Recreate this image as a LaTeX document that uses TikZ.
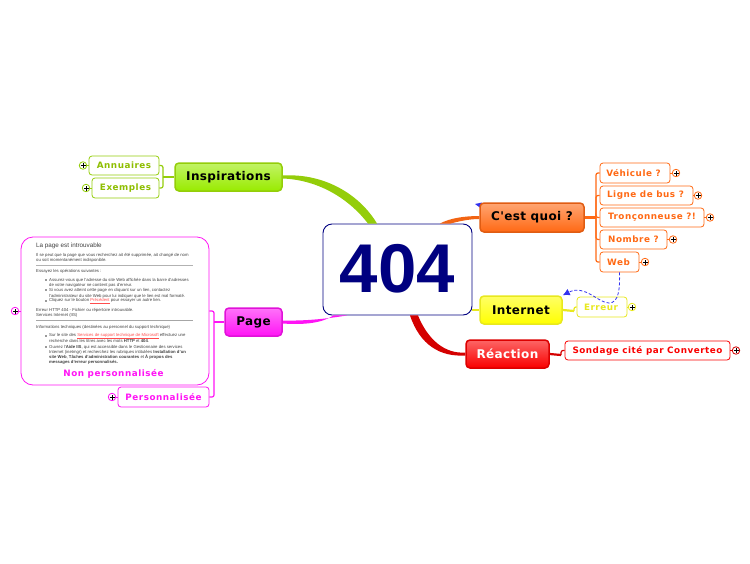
\documentclass[tikz,border=0pt]{standalone}
\usepackage{fontspec}
\setmainfont{Liberation Sans}
\newfontfamily\mapfont[LetterSpace=6]{DejaVu Sans}
\newfontfamily\topicfont[LetterSpace=3]{DejaVu Sans}
\usetikzlibrary{arrows.meta}
\definecolor{lime404}{RGB}{153,235,0}
\definecolor{limeline404}{RGB}{148,205,10}
\definecolor{limetext404}{RGB}{142,190,0}
\definecolor{orange404}{RGB}{255,105,20}
\definecolor{yellow404}{RGB}{255,255,0}
\definecolor{yellowline404}{RGB}{232,232,30}
\definecolor{red404}{RGB}{250,0,0}
\definecolor{pink404}{RGB}{255,20,245}
\definecolor{navy404}{RGB}{0,0,128}
\definecolor{link404}{RGB}{50,50,240}
\tikzset{
  topic/.style={draw=#1!88!black, line width=1.5pt, rounded corners=4pt, top color=#1!60!white, middle color=#1, bottom color=#1,
    inner sep=0pt, font=\topicfont\fontsize{12}{13}\selectfont\bfseries},
  kid/.style={draw=#1, line width=.8pt, rounded corners=3pt, fill=white, text=#1, inner sep=0pt,
    font=\mapfont\fontsize{8.8}{10}\selectfont\bfseries},
  stem/.style={draw=#1, line width=2.2pt},
  twig/.style={draw=#1, line width=1.2pt, rounded corners=2pt},
  plusmark/.style={circle, draw=#1, fill=white, line width=.8pt, minimum size=7.5pt, inner sep=0pt,
    path picture={\draw[black, line width=.8pt]
      ([xshift=-2.5pt]path picture bounding box.center) -- ([xshift=2.5pt]path picture bounding box.center)
      ([yshift=-2.5pt]path picture bounding box.center) -- ([yshift=2.5pt]path picture bounding box.center);}},
  pageline/.style={anchor=west, inner sep=0pt, text=black!75, font=\fontsize{4.25}{5}\selectfont},
}
\begin{document}
\begin{tikzpicture}[x=1pt, y=-1pt]
\useasboundingbox (0,0) rectangle (750,563);
% centre and main topics
\node (root) at (397.5,269.5)[draw=navy404, line width=.9pt, rounded corners=9pt, fill=white, minimum width=149pt, minimum height=91pt, inner sep=0pt, text=navy404, font=\fontsize{69}{70}\selectfont\bfseries]{\raisebox{1.5pt}{404}};
\fill[link404] (475,204)--(482,202.5)--(482,209)--cycle;
\node (insp) at (228.5,177)[topic=lime404, draw=limeline404, minimum width=107pt, minimum height=28pt]{Inspirations};
\node (quoi) at (532,217.5)[topic=orange404, minimum width=104pt, minimum height=29pt]{C'est quoi ?};
\node (inter) at (521,310)[topic=yellow404, draw=yellowline404, minimum width=82pt, minimum height=28pt]{Internet};
\node (react) at (507.5,354)[topic=red404, minimum width=83pt, minimum height=28pt, text=white]{Réaction};
\node (page) at (253.5,322)[topic=pink404, minimum width=57pt, minimum height=28pt]{Page};
% children
\node (annu) at (124,165.5)[kid=limeline404, text=limetext404, minimum width=70pt, minimum height=19pt]{Annuaires};
\node (exem) at (125.5,188)[kid=limeline404, text=limetext404, minimum width=67pt, minimum height=20pt]{Exemples};
\node (vehi) at (635,173)[kid=orange404, minimum width=70pt, minimum height=20pt]{\hspace{-3pt}Véhicule ?};
\node (bus) at (646.5,195.5)[kid=orange404, minimum width=93pt, minimum height=19pt]{\hspace{-2pt}Ligne de bus ?};
\node (tron) at (652,217.5)[kid=orange404, minimum width=104pt, minimum height=19pt]{Tronçonneuse ?!};
\node (nomb) at (633.5,239.5)[kid=orange404, minimum width=67pt, minimum height=19pt]{Nombre ?};
\node (web) at (619.5,262)[kid=orange404, minimum width=39pt, minimum height=20pt]{\hspace{-2pt}Web};
\node (erreur) at (602,307)[kid=yellowline404, minimum width=50pt, minimum height=20pt]{\hspace{-2pt}Erreur};
\node (sond) at (647.5,350.5)[kid=red404, minimum width=165pt, minimum height=19pt]{Sondage cité par Converteo};
\node (perso) at (163.5,397)[kid=pink404, minimum width=91pt, minimum height=20pt]{Personnalisée};
\node (shot) at (115,311)[draw=pink404, line width=.8pt, rounded corners=12pt, fill=white, minimum width=188pt, minimum height=148pt]{};
% page copy inside the box
\node (shotTitle) at (36,246)[pageline, font=\fontsize{6.3}{7}\selectfont]{La page est introuvable};
\foreach \ypos/\xpos/\txt in {
  255/36/{Il se peut que la page que vous recherchez ait été supprimée, ait changé de nom},
  260/36/{ou soit momentanément indisponible.},
  271/36/{Essayez les opérations suivantes :},
  280/49/{Assurez-vous que l'adresse du site Web affichée dans la barre d'adresses},
  285/49/{de votre navigateur ne contient pas d'erreur.},
  290/49/{Si vous avez atteint cette page en cliquant sur un lien, contactez},
  296/49/{l'administrateur du site Web pour lui indiquer que le lien est mal formaté.},
  301/49/{Cliquez sur le bouton \textcolor{red!70}{\underline{Précédent}} pour essayer un autre lien.},
  310/36/{Erreur HTTP 404 - Fichier ou répertoire introuvable.},
  315/36/{Services Internet (IIS)},
  327/36/{Informations techniques (destinées au personnel du support technique)},
  336/49/{Sur le site des \textcolor{red!70}{\underline{Services de support technique de Microsoft}} effectuez une},
  341/49/{recherche dans les titres avec les mots \textbf{HTTP} et \textbf{404}.},
  347/49/{Ouvrez l'\textbf{Aide IIS}, qui est accessible dans le Gestionnaire des services},
  352/49/{Internet (inetmgr) et recherchez les rubriques intitulées \textbf{Installation d'un}},
  357/49/{\textbf{site Web}, \textbf{Tâches d'administration courantes} et \textbf{À propos des}},
  362/49/{\textbf{messages d'erreur personnalisés.}}}
  \node (line\ypos) at (\xpos,\ypos)[pageline]{\txt};
\foreach \ypos in {280,290,301,336,347}
  \fill[black!80] (46,\ypos) circle (.9);
\draw[black!30, line width=.8pt] (36,265)--(193,265);
\draw[black!35, line width=.8pt] (36,320)--(193,320);
\node (shotName) at (113.5,374)[inner sep=0pt, text=pink404, font=\mapfont\fontsize{8.8}{10}\selectfont\bfseries]{Non personnalisée};
% branches from the centre
\fill[limeline404] ([yshift=1.5]insp.east) .. controls (325,173) and (360,195) .. ([xshift=-20.5]root.north) -- ([xshift=-29.5]root.north) .. controls (350,200) and (320,180) .. ([yshift=-1.5]insp.east) -- cycle;
\fill[orange404!95!black] ([yshift=1.5]quoi.west) .. controls (465,216) and (450,218) .. ([xshift=42.5]root.north) -- ([xshift=53]root.north) .. controls (460,221) and (470,219) .. ([yshift=-1.5]quoi.west) -- cycle;
\fill[pink404] ([yshift=1.5]page.east) .. controls (305,321) and (325,319) .. ([xshift=-50.5]root.south) -- ([xshift=-64]root.south) .. controls (322,323) and (305,325) .. ([yshift=-1.5]page.east) -- cycle;
\fill[red404!85!black] ([yshift=1.5]react.west) .. controls (445,354) and (428,340) .. ([xshift=20.5]root.south) -- ([xshift=12.5]root.south) .. controls (420,345) and (440,357) .. ([yshift=-1.5]react.west) -- cycle;
\draw[stem=yellowline404] (root.east |- inter.west) -- (inter.west);
% forks to the children
\coordinate (inspFork) at (163,177);
\coordinate (quoiFork) at (596,217.5);
\coordinate (interFork) at (574,311);
\coordinate (reactFork) at (561,355);
\coordinate (pageFork) at (214,322);
\draw[stem=limeline404] (insp.west) -- (inspFork);
\draw[stem=orange404] (quoi.east) -- (quoiFork);
\draw[stem=yellowline404] (inter.east) -- (interFork);
\draw[stem=red404!85!black] (react.east) -- (reactFork);
\draw[stem=pink404] (page.west) -- (pageFork);
\foreach \kid in {annu,exem}
  \draw[twig=limeline404] (\kid.east) -| (inspFork);
\foreach \kid in {vehi,bus,tron,nomb,web}
  \draw[twig=orange404] (\kid.west) -| (quoiFork);
\draw[twig=yellowline404] (erreur.west) -| (interFork);
\draw[twig=red404!85!black] (sond.west) -| (reactFork);
\foreach \kid in {shot,perso}
  \draw[twig=pink404] (\kid.east) -| (pageFork);
% plus marks
\foreach \kid/\xpos/\side/\col in {annu/83/west/limeline404, exem/86/west/limeline404,
    vehi/676/east/orange404, bus/698/east/orange404, tron/710/east/orange404, nomb/673/east/orange404, web/645/east/orange404,
    erreur/632/east/yellowline404, sond/736/east/red404!85!black, perso/112/west/pink404, shot/15/west/pink404}{
  \node (\kid Plus) at (\xpos,0 |- \kid.\side)[plusmark=\col]{};
  \draw[\col, line width=.8pt] (\kid.\side) -- (\kid Plus);
}
% relation from Web to Internet
\draw[link404, densely dashed, line width=.8pt, -{Latex[length=7pt,width=7pt]}] (web.south) .. controls (620,288) and (619,303) .. (609,303) .. controls (598,303) and (585,284) .. (inter.north east);
\end{tikzpicture}
\end{document}
